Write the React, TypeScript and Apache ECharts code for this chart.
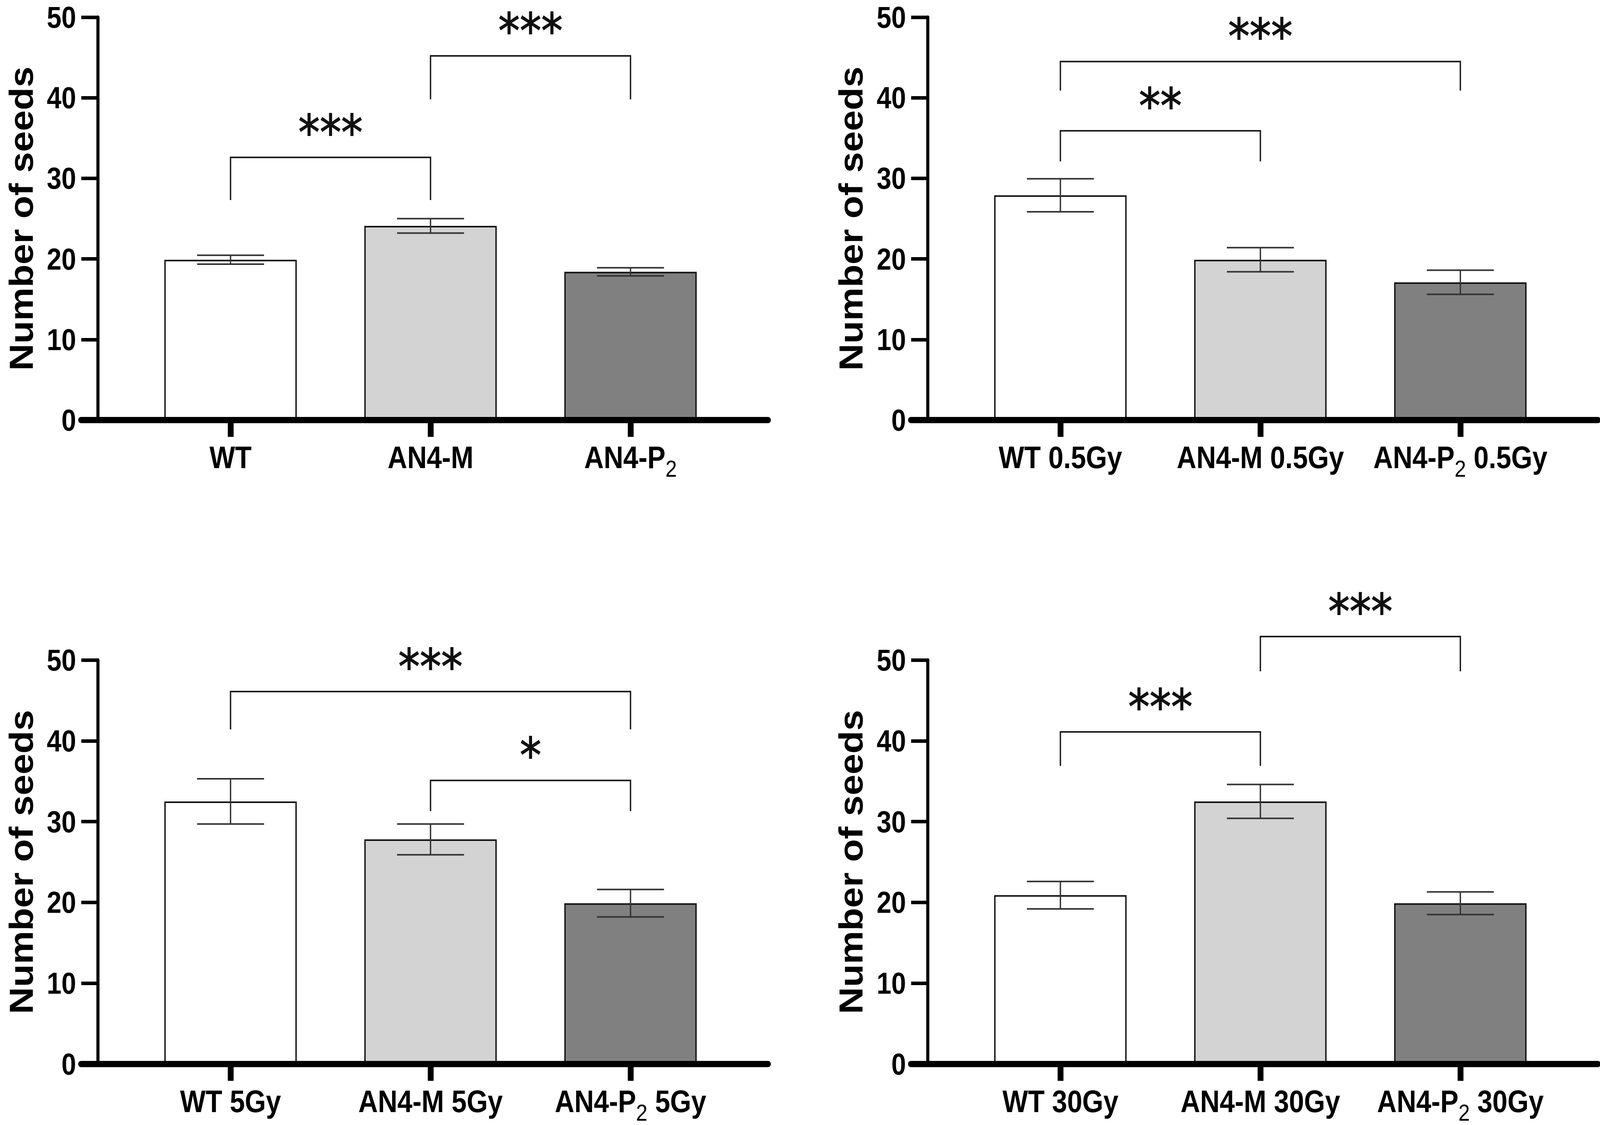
import React, { useEffect, useRef, useState } from "react";
import * as echarts from "echarts";

// ---------- data ----------
const CATEGORIES_A = ["WT", "AN4-M", "AN4-P2"];
const CATEGORIES_B = ["WT 0.5Gy", "AN4-M 0.5Gy", "AN4-P2 0.5Gy"];
const CATEGORIES_C = ["WT 5Gy", "AN4-M 5Gy", "AN4-P2 5Gy"];
const CATEGORIES_D = ["WT 30Gy", "AN4-M 30Gy", "AN4-P2 30Gy"];

const MEANS_A = [19.9, 24.1, 18.4];
const SEM_A = [0.55, 0.9, 0.5];
const MEANS_B = [27.9, 19.9, 17.1];
const SEM_B = [2.05, 1.5, 1.5];
const MEANS_C = [32.5, 27.8, 19.9];
const SEM_C = [2.8, 1.9, 1.7];
const MEANS_D = [20.9, 32.5, 19.9];
const SEM_D = [1.7, 2.1, 1.4];

// [fromIndex, toIndex, legBottom, bracketTop]
const BRACKETS_A = [[0, 1, 27.3, 32.6], [1, 2, 39.8, 45.2]];
const STARS_A = ["***", "***"];
const BRACKETS_B = [[0, 1, 32.1, 35.9], [0, 2, 40.9, 44.5]];
const STARS_B = ["**", "***"];
const BRACKETS_C = [[0, 2, 41.4, 46.1], [1, 2, 31.3, 35.1]];
const STARS_C = ["***", "*"];
const BRACKETS_D = [[0, 1, 36.9, 41.1], [1, 2, 48.6, 52.9]];
const STARS_D = ["***", "***"];

const Y_MIN = 0;
const Y_MAX = 50;
const Y_INTERVAL = 10;
const Y_TITLE = "Number of seeds";
const BAR_COLORS = ["#ffffff", "#d3d3d3", "#808080"];

const PANELS = [
  { cats: CATEGORIES_A, means: MEANS_A, sem: SEM_A, brackets: BRACKETS_A, stars: STARS_A },
  { cats: CATEGORIES_B, means: MEANS_B, sem: SEM_B, brackets: BRACKETS_B, stars: STARS_B },
  { cats: CATEGORIES_C, means: MEANS_C, sem: SEM_C, brackets: BRACKETS_C, stars: STARS_C },
  { cats: CATEGORIES_D, means: MEANS_D, sem: SEM_D, brackets: BRACKETS_D, stars: STARS_D },
];

// ---------- layout (designed on a 4664 x 2879 canvas) ----------
const DESIGN_W = 4664;
const DESIGN_H = 2879;
const LAYOUT = [
  { left: 236, top: 44, height: 1031 },
  { left: 2655, top: 44, height: 1031 },
  { left: 236, top: 1689, height: 1034 },
  { left: 2655, top: 1689, height: 1034 },
];
const GRID_WIDTH = 2003;
const X_MIN = -0.748;
const X_MAX = 2.688;
const CAP_WIDTH = 0.335;
const FONT = "'Liberation Sans', Arial, Helvetica, sans-serif";

function richLabel(name: string): string {
  const m = name.match(/^(.*P)2(.*)$/);
  if (!m) return `{a|${name}}`;
  return `{a|${m[1]}}{s|2}` + (m[2] ? `{a|${m[2]}}` : "");
}

function buildOption() {
  const grid: any[] = [];
  const xAxis: any[] = [];
  const yAxis: any[] = [];
  const series: any[] = [];

  PANELS.forEach((p, i) => {
    const L = LAYOUT[i];
    grid.push({ left: L.left, top: L.top, width: GRID_WIDTH, height: L.height, containLabel: false });
    xAxis.push({
      gridIndex: i,
      type: "value",
      min: X_MIN,
      max: X_MAX,
      z: 10,
      axisLine: { show: true, onZero: false, lineStyle: { color: "#000", width: 16 } },
      axisTick: { show: true, customValues: [0, 1, 2], length: 43, lineStyle: { color: "#000", width: 17 } },
      axisLabel: {
        show: true,
        customValues: [0, 1, 2],
        margin: 36,
        color: "#000",
        formatter: (v: number) => richLabel(p.cats[Math.round(v)] ?? ""),
        rich: {
          a: { fontFamily: FONT, fontWeight: "bold", fontSize: 79, lineHeight: 120, color: "#000" },
          s: { fontFamily: FONT, fontWeight: "normal", fontSize: 60, lineHeight: 60, padding: [56, 0, 0, 0], color: "#000" },
        },
      },
      splitLine: { show: false },
    });
    yAxis.push({
      gridIndex: i,
      type: "value",
      min: Y_MIN,
      max: Y_MAX,
      interval: Y_INTERVAL,
      offset: -49,
      name: Y_TITLE,
      nameLocation: "middle",
      nameRotate: 90,
      nameGap: 175,
      nameTextStyle: { fontFamily: FONT, fontWeight: "bold", fontSize: 96, color: "#000" },
      axisLine: { show: true, onZero: false, lineStyle: { color: "#000", width: 9 } },
      axisTick: { show: true, length: 48, lineStyle: { color: "#000", width: 9 } },
      axisLabel: { margin: 63, fontFamily: FONT, fontWeight: "bold", fontSize: 77, color: "#000" },
      splitLine: { show: false },
    });

    series.push({
      type: "bar",
      xAxisIndex: i,
      yAxisIndex: i,
      barWidth: 386,
      z: 2,
      itemStyle: { borderColor: "#111", borderWidth: 4 },
      data: p.means.map((m, j) => ({ value: [j, m], itemStyle: { color: BAR_COLORS[j] } })),
    });

    series.push({
      type: "custom",
      xAxisIndex: i,
      yAxisIndex: i,
      z: 3,
      encode: { x: 0, y: 1 },
      data: p.means.map((m, j) => [j, m, p.sem[j]]),
      renderItem: (params: any, api: any) => {
        const x = api.value(0);
        const m = api.value(1);
        const e = api.value(2);
        const top = api.coord([x, m + e]);
        const bot = api.coord([x, m - e]);
        const half = api.size([CAP_WIDTH, 0])[0] / 2;
        const style = { stroke: "#333", lineWidth: 4 };
        return {
          type: "group",
          children: [
            { type: "line", shape: { x1: top[0], y1: top[1], x2: bot[0], y2: bot[1] }, style },
            { type: "line", shape: { x1: top[0] - half, y1: top[1], x2: top[0] + half, y2: top[1] }, style },
            { type: "line", shape: { x1: bot[0] - half, y1: bot[1], x2: bot[0] + half, y2: bot[1] }, style },
          ],
        };
      },
    });

    series.push({
      type: "custom",
      xAxisIndex: i,
      yAxisIndex: i,
      z: 4,
      clip: false,
      encode: { x: [0, 1], y: [2, 3] },
      data: p.brackets,
      renderItem: (params: any, api: any) => {
        const a = api.coord([api.value(0), api.value(2)]);
        const b = api.coord([api.value(0), api.value(3)]);
        const c = api.coord([api.value(1), api.value(3)]);
        const d = api.coord([api.value(1), api.value(2)]);
        return {
          type: "group",
          children: [
            {
              type: "polyline",
              shape: { points: [a, b, c, d] },
              style: { stroke: "#1a1a1a", lineWidth: 4, fill: null },
            },
            {
              type: "text",
              style: {
                text: p.stars[params.dataIndex],
                x: (b[0] + c[0]) / 2,
                y: b[1] - 63,
                align: "center",
                verticalAlign: "middle",
                fontFamily: "'DejaVu Sans', sans-serif",
                fontSize: 125,
                fill: "#111",
                stroke: "#111",
                lineWidth: 2,
              },
            },
          ],
        };
      },
    });
  });

  return { animation: false, backgroundColor: "#ffffff", grid, xAxis, yAxis, series };
}

export default function App() {
  const ref = useRef<HTMLDivElement>(null);
  const [vp] = useState(() => ({
    w: typeof window !== "undefined" ? window.innerWidth || DESIGN_W : DESIGN_W,
    h: typeof window !== "undefined" ? window.innerHeight || DESIGN_H : DESIGN_H,
  }));
  const sx = vp.w / DESIGN_W;
  const sy = vp.h / DESIGN_H;

  useEffect(() => {
    if (!ref.current) return;
    const chart = echarts.init(ref.current, undefined, { renderer: "svg" });
    chart.setOption(buildOption() as any);
    return () => chart.dispose();
  }, []);

  return (
    <div
      style={{
        position: "fixed",
        left: 0,
        top: 0,
        width: vp.w,
        height: vp.h,
        overflow: "hidden",
        background: "#fff",
      }}
    >
      <div
        ref={ref}
        style={{
          width: DESIGN_W,
          height: DESIGN_H,
          transform: `scale(${sx}, ${sy})`,
          transformOrigin: "0 0",
          background: "#fff",
        }}
      />
    </div>
  );
}
